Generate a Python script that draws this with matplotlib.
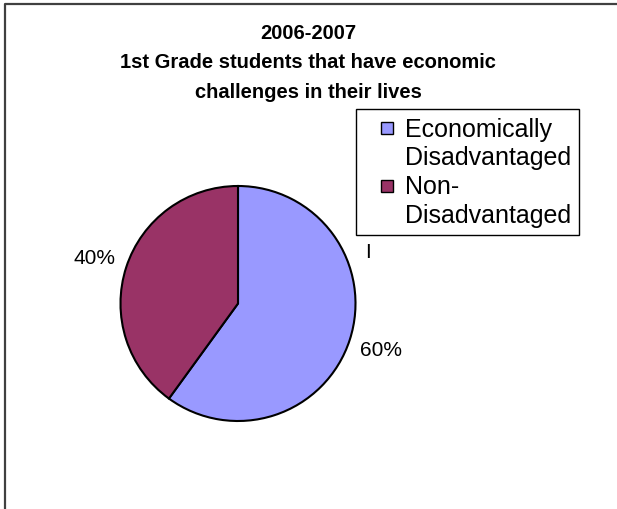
import matplotlib
matplotlib.use("Agg")
import matplotlib.pyplot as plt
from matplotlib.patches import Patch, Rectangle
from matplotlib.legend_handler import HandlerPatch
from matplotlib.lines import Line2D

plt.rcParams['font.family'] = ['Liberation Sans', 'DejaVu Sans']

title = "2006-2007\n1st Grade students that have economic\nchallenges in their lives"
categories = ["Economically\nDisadvantaged", "Non-\nDisadvantaged"]
shares = [60, 40]
colors = ["#9999FF", "#993366"]

W, H = 617, 510
fig = plt.figure(figsize=(W / 100, H / 100), dpi=100)

# outer chart border (only top and left edges fall inside the image)
fig.add_artist(Line2D([5 / W, 5 / W, 1], [0, 1 - 5 / H, 1 - 5 / H],
                      transform=fig.transFigure, color="#404040", lw=1.6))

fig.text(308 / W, 1 - 24 / H, title, ha="center", va="top",
         fontsize=14.5, fontweight="bold", linespacing=1.7)

# pie centre (238, 304.5) px, radius 117.5 px
cx, cy, r = 238, 304.5, 117.5
ax = fig.add_axes([(cx - r) / W, (H - cy - r) / H, 2 * r / W, 2 * r / H])
wedges, _, pcts = ax.pie(shares, colors=colors, startangle=90, counterclock=False,
                         autopct="%1.0f%%", pctdistance=1.28,
                         wedgeprops=dict(edgecolor="black", linewidth=1.5),
                         textprops=dict(fontsize=15))
ax.set_xlim(-1, 1)
ax.set_ylim(-1, 1)
ax.set_aspect("equal")

fig.text(368 / W, 1 - 253 / H, "I", ha="center", va="center", fontsize=15)


# small square sitting at the right end of the handle box
def square(legend, orig_handle, xdescent, ydescent, width, height, fontsize):
    s = 8.6
    return Rectangle((width - s - xdescent, -ydescent), s, s)


handles, labels = [], []
for cat, col in zip(categories, colors):
    first, second = cat.split("\n")
    handles.append(Patch(facecolor=col, edgecolor="black", lw=1))
    labels.append(first)
    handles.append(Patch(facecolor="none", edgecolor="none"))
    labels.append(second)

leg = fig.legend(handles, labels, loc="upper left",
                 bbox_to_anchor=(356 / W, 1 - 110 / H), bbox_transform=fig.transFigure,
                 borderaxespad=0, borderpad=0.3, fontsize=18,
                 handlelength=1.18, handleheight=0.5, handletextpad=0.48,
                 labelspacing=0.2, fancybox=False, framealpha=1,
                 handler_map={Patch: HandlerPatch(patch_func=square)})
leg.get_frame().set_edgecolor("black")
leg.get_frame().set_linewidth(1)

fig.savefig("out.png", dpi=100)
